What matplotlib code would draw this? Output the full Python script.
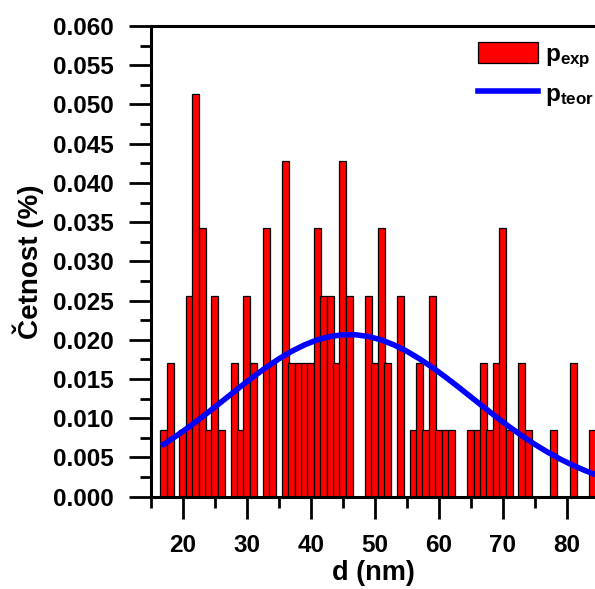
import matplotlib
matplotlib.use("Agg")
import matplotlib.pyplot as plt
from matplotlib.ticker import MultipleLocator, FormatStrFormatter

plt.rcParams["font.family"] = ["Liberation Sans", "DejaVu Sans"]
plt.rcParams["font.weight"] = "bold"
plt.rcParams["mathtext.fontset"] = "custom"
plt.rcParams["mathtext.rm"] = "Liberation Sans:bold"
plt.rcParams["mathtext.bf"] = "Liberation Sans:bold"
plt.rcParams["mathtext.it"] = "Liberation Sans:bold"

# Experimental size distribution: particle diameter (nm) and relative frequency
d_exp = [17, 18, 20, 21, 22, 23, 24, 25, 26, 28, 29, 30, 31, 33, 34, 36, 37,
         38, 39, 40, 41, 42, 43, 44, 45, 46, 49, 50, 51, 52, 54, 56, 57, 58,
         59, 60, 61, 62, 65, 66, 67, 68, 69, 70, 71, 73, 74, 78, 81, 84]
p_exp = [0.00855, 0.01709, 0.00855, 0.02564, 0.05128, 0.03419, 0.00855,
         0.02564, 0.00855, 0.01709, 0.00855, 0.02564, 0.01709, 0.03419,
         0.01709, 0.04274, 0.01709, 0.01709, 0.01709, 0.01709, 0.03419,
         0.02564, 0.02564, 0.01709, 0.04274, 0.02564, 0.02564, 0.01709,
         0.03419, 0.01709, 0.02564, 0.00855, 0.01709, 0.00855, 0.02564,
         0.00855, 0.00855, 0.00855, 0.00855, 0.00855, 0.01709, 0.00855,
         0.01709, 0.03419, 0.00855, 0.01709, 0.00855, 0.00855, 0.01709,
         0.00855]

# Theoretical distribution curve
d_teor = [17, 19, 21, 23, 25, 27, 29, 31, 33, 35, 37, 39, 41, 43, 45, 47,
          49, 51, 53, 55, 57, 59, 61, 63, 65, 67, 69, 71, 73, 75, 77, 79,
          81, 83, 85]
p_teor = [0.00668, 0.00777, 0.00893, 0.01016, 0.01144, 0.01273, 0.01403,
          0.01528, 0.01648, 0.01757, 0.01854, 0.01935, 0.01999, 0.02042,
          0.02064, 0.02064, 0.02042, 0.01999, 0.01935, 0.01854, 0.01757,
          0.01648, 0.01528, 0.01403, 0.01273, 0.01144, 0.01016, 0.00893,
          0.00777, 0.00668, 0.00569, 0.00479, 0.00399, 0.00329, 0.00268]

fig = plt.figure(figsize=(5.95, 5.89), dpi=100)
ax = fig.add_axes([151 / 595, 92.3 / 589, 444 / 595, 470.7 / 589])

bars = ax.bar(d_exp, p_exp, width=1.1, color="#ff0000", edgecolor="black",
              linewidth=0.9, label=r"$\mathregular{p_{exp}}$", zorder=2)
line, = ax.plot(d_teor, p_teor, color="#0000ff", linewidth=4,
                label=r"$\mathregular{p_{teor}}$", zorder=3)

ax.set_xlim(15, 84.43)
ax.set_ylim(0, 0.06)

ax.xaxis.set_major_locator(MultipleLocator(10))
ax.xaxis.set_minor_locator(MultipleLocator(5))
ax.yaxis.set_major_locator(MultipleLocator(0.005))
ax.yaxis.set_minor_locator(MultipleLocator(0.0025))
ax.yaxis.set_major_formatter(FormatStrFormatter("%.3f"))

ax.spines["right"].set_visible(False)
for side in ("left", "bottom", "top"):
    ax.spines[side].set_linewidth(2.2)

ax.tick_params(axis="both", which="major", direction="out", length=16,
               width=2, labelsize=17.5, pad=11)
ax.tick_params(axis="both", which="minor", direction="out", length=8,
               width=2)
ax.tick_params(top=False, right=False, which="both")
for lbl in ax.get_xticklabels() + ax.get_yticklabels():
    lbl.set_fontweight("bold")

ax.set_xlabel("d (nm)", fontsize=19.5, fontweight="bold", labelpad=2)
ax.set_ylabel("Četnost (%)", fontsize=20, fontweight="bold", labelpad=6)

leg = ax.legend(handles=[bars, line], loc="upper left",
                bbox_to_anchor=(478 / 595, 1 - 42 / 589),
                bbox_transform=fig.transFigure, frameon=False,
                fontsize=17.5, handlelength=2.45, handleheight=0.95,
                handletextpad=0.3, borderpad=0, borderaxespad=0,
                labelspacing=0.5)

fig.savefig("out.png", dpi=100)
